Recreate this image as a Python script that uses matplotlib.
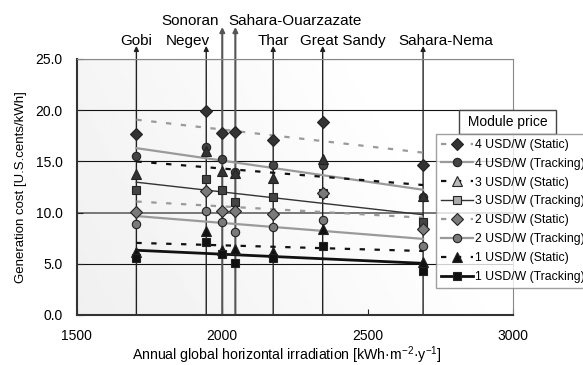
import numpy as np
import matplotlib
matplotlib.use("Agg")
from matplotlib import pyplot as plt
from matplotlib.lines import Line2D
from matplotlib.transforms import blended_transform_factory

plt.rcParams['font.family'] = ['Liberation Sans', 'DejaVu Sans']
plt.rcParams['mathtext.default'] = 'regular'

sites = ["Gobi", "Negev", "Sonoran", "Sahara-Ouarzazate", "Thar", "Great Sandy", "Sahara-Nema"]
irradiation = [1705, 1945, 2000, 2045, 2175, 2345, 2690]

static_4 = [17.7, 19.9, 17.8, 17.9, 17.1, 18.8, 14.6]
tracking_4 = [15.5, 16.4, 15.2, 14.0, 14.6, 14.6, 11.5]
static_3 = [13.8, 16.0, 14.1, 13.9, 13.4, 15.2, 11.6]
tracking_3 = [12.2, 13.3, 12.2, 11.0, 11.5, 11.9, 9.1]
static_2 = [10.1, 12.1, 10.2, 10.2, 9.9, 11.9, 8.4]
tracking_2 = [8.9, 10.2, 9.1, 8.1, 8.6, 9.3, 6.7]
static_1 = [6.2, 8.2, 6.3, 6.4, 6.2, 8.4, 5.2]
tracking_1 = [5.6, 7.1, 6.0, 5.1, 5.6, 6.7, 4.3]

labels = ["4 USD/W (Static)", "4 USD/W (Tracking)", "3 USD/W (Static)", "3 USD/W (Tracking)",
          "2 USD/W (Static)", "2 USD/W (Tracking)", "1 USD/W (Static)", "1 USD/W (Tracking)"]
series = [static_4, tracking_4, static_3, tracking_3, static_2, tracking_2, static_1, tracking_1]

x_ticks = [1500, 2000, 2500, 3000]
y_ticks = [0, 5, 10, 15, 20, 25]

# styles: (line color, linestyle, lw, marker, plot face, legend face)
dash = (0, (2.4, 4.3))
styles = [
    ("#9a9a9a", dash, 1.6, "D", "#333333", "#333333"),
    ("#9a9a9a", "-", 1.6, "o", "#444444", "#444444"),
    ("#111111", dash, 1.6, "^", "#333333", "#bbbbbb"),
    ("#333333", "-", 1.0, "s", "#444444", "#aaaaaa"),
    ("#9a9a9a", dash, 1.6, "D", "#7a7a7a", "#7a7a7a"),
    ("#9a9a9a", "-", 1.6, "o", "#7a7a7a", "#7a7a7a"),
    ("#111111", dash, 1.6, "^", "#111111", "#111111"),
    ("#111111", "-", 2.0, "s", "#111111", "#111111"),
]

fig = plt.figure(figsize=(5.83, 3.65), dpi=100)
ax = fig.add_axes([0.1316, 0.137, 0.7489, 0.7014])

# faint background gradient
gx = np.linspace(0.94, 1.0, 256).reshape(1, -1)
gy = np.linspace(0.0, 0.02, 64)[::-1].reshape(-1, 1)
ax.imshow(np.clip(gx + gy, 0, 1), extent=[1500, 3000, 0, 25], aspect="auto",
          cmap="gray", vmin=0, vmax=1, zorder=0)

ax.set_xlim(1500, 3000)
ax.set_ylim(0, 25)
ax.set_xticks(x_ticks)
ax.set_yticks(y_ticks)
ax.set_yticklabels(["%.1f" % v for v in y_ticks])
ax.tick_params(direction="in", length=4, pad=10, labelsize=10, colors="#222222", labelcolor="black")
ax.yaxis.grid(True, color="#111111", lw=0.8, zorder=1)
ax.set_axisbelow(True)
ax.get_ygridlines()[2].set_color("#777777")
ax.get_ygridlines()[2].set_linewidth(1.4)
for s in ["left", "bottom"]:
    ax.spines[s].set_color("#333333")
    ax.spines[s].set_linewidth(1.5)
for s in ["top", "right"]:
    ax.spines[s].set_color("#888888")
    ax.spines[s].set_linewidth(0.8)

ax.set_xlabel("Annual global horizontal irradiation [kWh·m$^{-2}$·y$^{-1}$]", fontsize=10.2)
ax.xaxis.set_label_coords(0.4805, -0.114)
ax.set_ylabel("Generation cost [U.S.cents/kWh]", fontsize=9.5)
ax.yaxis.set_label_coords(-0.114, 0.5)

# site arrows and labels
upper = {"Sonoran", "Sahara-Ouarzazate"}
offsets = {"Gobi": (0, "center"), "Negev": (-18, "center"), "Sonoran": (-3, "right"),
           "Sahara-Ouarzazate": (-7, "left"), "Thar": (0, "center"),
           "Great Sandy": (20, "center"), "Sahara-Nema": (23, "center")}
trans = blended_transform_factory(ax.transData, ax.transAxes)
for name, x in zip(sites, irradiation):
    if name in upper:
        tip, base, col, lw = 1.125, 1.133, "#555555", 1.5
    else:
        tip, base, col, lw = 1.051, 1.055, "#222222", 1.0
    ax.annotate("", xy=(x, tip), xycoords=trans, xytext=(x, 0), textcoords=trans,
                arrowprops=dict(arrowstyle="-|>", lw=lw, color=col,
                                mutation_scale=7, shrinkA=0, shrinkB=0),
                annotation_clip=False, zorder=2)
    dx, ha = offsets[name]
    ax.annotate(name, xy=(x, base), xycoords=trans, xytext=(dx, 0),
                textcoords="offset pixels", ha=ha, va="baseline", fontsize=11,
                annotation_clip=False)

xs = np.array(irradiation, dtype=float)
xfit = np.array([xs.min(), xs.max()])
handles = []
for vals, (lc, ls, lw, mk, face, lface), lab in zip(series, styles, labels):
    k, b = np.polyfit(xs, vals, 1)
    ax.plot(xfit, k * xfit + b, color=lc, ls=ls, lw=lw, zorder=3)
    ms = 6.5 if mk == "^" else 6
    ax.plot(xs, vals, ls="none", marker=mk, ms=ms,
            mfc=face, mec="#222222", mew=0.8, zorder=4)
    handles.append(Line2D([], [], color=lc, ls=ls, lw=lw, marker=mk, ms=ms,
                          mfc=lface, mec="#222222", mew=0.8, label=lab))

leg = fig.legend(handles=handles, loc="upper left", bbox_to_anchor=(0.7479, 0.6329),
                 fontsize=8.8, frameon=True, fancybox=False, borderaxespad=0,
                 handlelength=2.6, handletextpad=0.15, labelspacing=0.56,
                 borderpad=0.4)
leg.get_frame().set_edgecolor("#888888")
leg.get_frame().set_linewidth(1.0)
leg.get_frame().set_facecolor("white")

fig.text(0.8705, 0.6658, " Module price ", ha="center", va="center", fontsize=10,
         bbox=dict(boxstyle="square,pad=0.33", fc="white", ec="#444444", lw=1.0))

fig.savefig("out.png", dpi=100)
